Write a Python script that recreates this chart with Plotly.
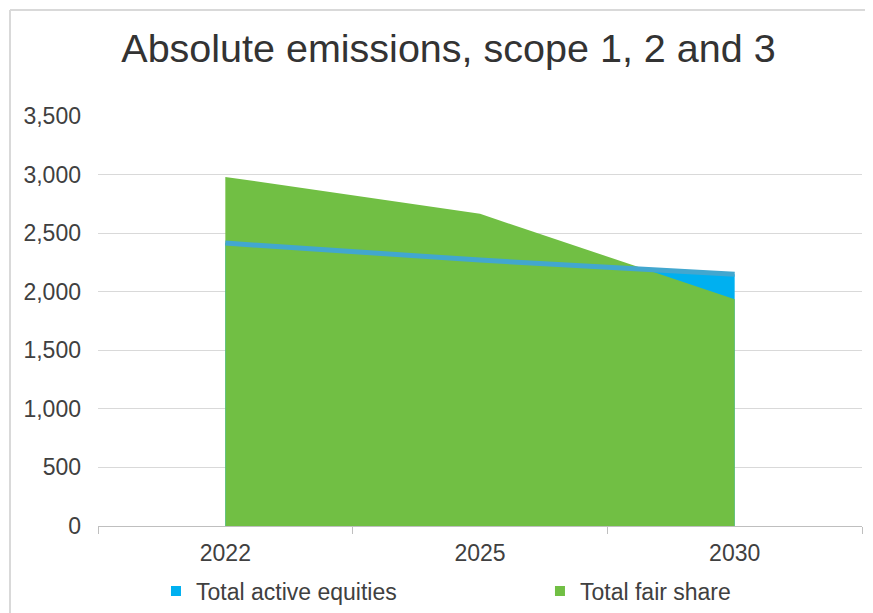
import plotly.graph_objects as go

categories = ["2022", "2025", "2030"]
active_equities = [2415, 2270, 2150]
fair_share = [2980, 2665, 1935]
y_ticks = [0, 500, 1000, 1500, 2000, 2500, 3000, 3500]

BLUE_AREA = "#00B0F0"
BLUE_LINE = "#42A7CF"
GREEN = "#71BF44"
FONT = "Liberation Sans, Arial, sans-serif"

fig = go.Figure()
fig.add_trace(go.Scatter(x=categories, y=active_equities, fill="tozeroy", mode="none",
                         fillcolor=BLUE_AREA, showlegend=False, hoverinfo="skip"))
fig.add_trace(go.Scatter(x=categories, y=fair_share, fill="tozeroy", mode="none",
                         fillcolor=GREEN, showlegend=False, hoverinfo="skip"))
fig.add_trace(go.Scatter(x=categories, y=active_equities, mode="lines",
                         line=dict(color=BLUE_LINE, width=5), showlegend=False))
# legend entries
fig.add_trace(go.Scatter(x=[None], y=[None], mode="markers", name="Total active equities",
                         marker=dict(symbol="square", size=10, color=BLUE_AREA), legend="legend"))
fig.add_trace(go.Scatter(x=[None], y=[None], mode="markers", name="Total fair share",
                         marker=dict(symbol="square", size=10, color=GREEN), legend="legend2"))

leg_common = dict(orientation="h", yanchor="middle", y=-0.1585, xanchor="left",
                  font=dict(size=23, color="#404040"), bgcolor="rgba(0,0,0,0)",
                  itemwidth=30)

# the page body has an 8px margin, so the figure is sized to fill the rest of the window
fig.update_layout(
    width=865, height=605,
    margin=dict(l=90, r=11, t=108, b=87, autoexpand=False),
    paper_bgcolor="white", plot_bgcolor="white",
    font=dict(family=FONT, size=23, color="#404040"),
    title=dict(text="Absolute emissions, scope 1, 2 and 3", x=0.5092, xanchor="center",
               y=0.9339, yanchor="middle", font=dict(size=39.5, color="#333333")),
    showlegend=True,
    legend=dict(x=0.0759, **leg_common),
    legend2=dict(x=0.5785, **leg_common),
    shapes=[
        dict(type="line", xref="paper", yref="paper", x0=-0.1152, x1=1.03, y0=1.2585, y1=1.2585,
             line=dict(color="#D9D9D9", width=2)),
        dict(type="line", xref="paper", yref="paper", x0=-0.1152, x1=-0.1152, y0=1.2585, y1=-0.3,
             line=dict(color="#D9D9D9", width=2)),
    ],
)
fig.update_xaxes(type="category", range=[-0.5, 2.5], tickson="boundaries", ticks="outside",
                 ticklen=7, tickcolor="#BFBFBF", showline=True, linecolor="#BFBFBF", linewidth=1,
                 showgrid=False, tickfont=dict(size=23, color="#404040"), automargin=False,
                 ticklabelstandoff=6)
fig.update_yaxes(range=[0, 3500], tickvals=y_ticks, tickformat=",d", showgrid=True,
                 gridcolor="#D9D9D9", gridwidth=1, zeroline=False, showline=False,
                 ticklabelstandoff=16, tickfont=dict(size=23, color="#404040"), automargin=False)

fig.write_html("out.html")
